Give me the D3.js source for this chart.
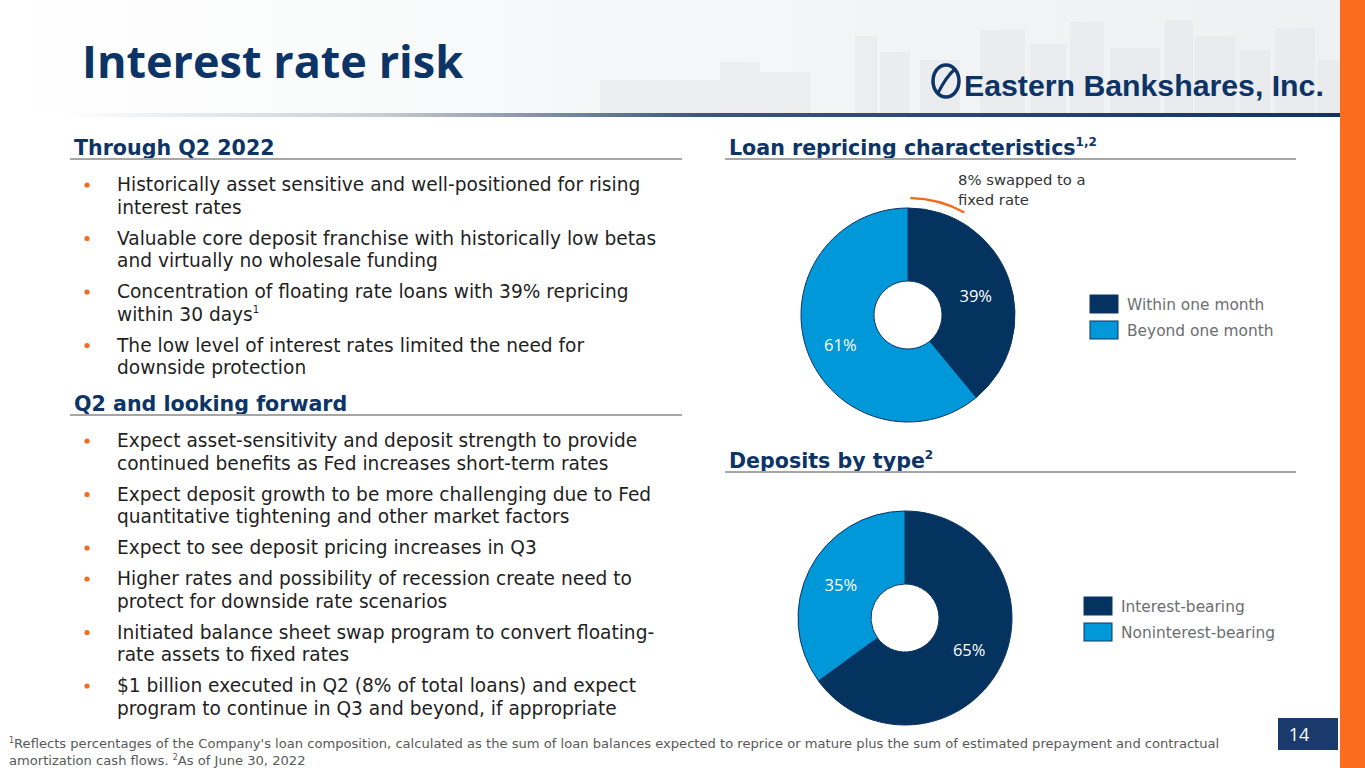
<!DOCTYPE html>
<html>
<head>
<meta charset="utf-8">
<script src="https://cdn.jsdelivr.net/npm/d3@7"></script>
<style>
  body { margin: 0; background: #fff; }
  svg { display: block; font-family: "DejaVu Sans", "Open Sans", sans-serif; }
  .hdr { font-weight: 700; fill: #0d3466; font-size: 20.6px; }
  .bul { fill: #1f1f1f; font-size: 18.6px; }
  .leg { fill: #6d6e71; font-size: 15.4px; }
  .pct { fill: #fff; font-size: 16.5px; font-family: "Open Sans", sans-serif; }
</style>
</head>
<body>
<svg id="slide"></svg>
<script>
const W = 1365, H = 768;

// chart data
const loanLabels = ["Within one month", "Beyond one month"];
const loanValues = [39, 61];
const swappedShare = 8;
const depositLabels = ["Interest-bearing", "Noninterest-bearing"];
const depositValues = [65, 35];

// slide text
const title = "Interest rate risk";
const leftTop = [
  ["Historically asset sensitive and well-positioned for rising", "interest rates"],
  ["Valuable core deposit franchise with historically low betas", "and virtually no wholesale funding"],
  ["Concentration of floating rate loans with 39% repricing", "within 30 days|1"],
  ["The low level of interest rates limited the need for", "downside protection"]
];
const leftBottom = [
  ["Expect asset-sensitivity and deposit strength to provide", "continued benefits as Fed increases short-term rates"],
  ["Expect deposit growth to be more challenging due to Fed", "quantitative tightening and other market factors"],
  ["Expect to see deposit pricing increases in Q3"],
  ["Higher rates and possibility of recession create need to", "protect for downside rate scenarios"],
  ["Initiated balance sheet swap program to convert floating-", "rate assets to fixed rates"],
  ["$1 billion executed in Q2 (8% of total loans) and expect", "program to continue in Q3 and beyond, if appropriate"]
];

const navy = "#0d3466", dark = "#04335f", light = "#0098d8", orange = "#f26b21";
const colors = d3.scaleOrdinal().range([dark, light]);

const svg = d3.select("#slide").attr("width", W).attr("height", H);
const defs = svg.append("defs");

// header band with a faint skyline
const hg = defs.append("linearGradient").attr("id", "band");
hg.append("stop").attr("offset", "0%").attr("stop-color", "#ffffff");
hg.append("stop").attr("offset", "45%").attr("stop-color", "#f6f7f8");
hg.append("stop").attr("offset", "100%").attr("stop-color", "#eef0f2");
svg.append("rect").attr("width", W - 25).attr("height", 114).attr("fill", "url(#band)");

const sky = svg.append("g").attr("fill", "#e6e8eb").attr("opacity", 0.6);
[[600, 80, 120, 34], [720, 62, 40, 52], [760, 72, 50, 42], [855, 36, 22, 78], [880, 52, 30, 62],
 [920, 60, 40, 54], [980, 30, 45, 84], [1030, 44, 36, 70], [1070, 22, 34, 92], [1110, 48, 50, 66],
 [1165, 20, 28, 94], [1195, 36, 40, 78], [1240, 50, 30, 64], [1275, 28, 40, 86], [1318, 60, 22, 54]]
  .forEach(([x, y, w, h]) => sky.append("rect").attr("x", x).attr("y", y).attr("width", w).attr("height", h));

const lg = defs.append("linearGradient").attr("id", "rule");
lg.append("stop").attr("offset", "0%").attr("stop-color", "#ffffff");
lg.append("stop").attr("offset", "25%").attr("stop-color", "#c9ccd1");
lg.append("stop").attr("offset", "50%").attr("stop-color", "#3a5680");
lg.append("stop").attr("offset", "100%").attr("stop-color", "#0d3466");
svg.append("rect").attr("x", 60).attr("y", 113).attr("width", 1280).attr("height", 4).attr("fill", "url(#rule)");

// orange side bar
svg.append("rect").attr("x", 1340).attr("width", 25).attr("height", H).attr("fill", "#fb6c1e");

svg.append("text").attr("x", 82).attr("y", 78)
  .attr("fill", navy).attr("font-size", 45).attr("font-weight", 700)
  .attr("font-family", "'Open Sans', sans-serif").text(title);

// logo
const logo = svg.append("g").attr("transform", "translate(930,67)");
logo.append("ellipse").attr("cx", 16).attr("cy", 14).attr("rx", 13).attr("ry", 16)
  .attr("fill", "none").attr("stroke", navy).attr("stroke-width", 3.5);
logo.append("path").attr("d", "M8,26 C14,14 18,8 25,2").attr("stroke", navy).attr("stroke-width", 3).attr("fill", "none");
const logoText = logo.append("text").attr("x", 34).attr("y", 29).attr("fill", navy)
  .attr("font-family", "'Liberation Sans Narrow', 'Liberation Sans', sans-serif").attr("font-weight", 700)
  .attr("font-size", 35).text("Eastern Bankshares, Inc.");
// shrink font so the wordmark fits its slot
const natural = logoText.node().getComputedTextLength();
if (natural > 360) logoText.attr("font-size", 35 * 360 / natural);

// section headers
function header(x, y, x2, txt, sup) {
  const t = svg.append("text").attr("class", "hdr").attr("x", x).attr("y", y).text(txt);
  if (sup) t.append("tspan").attr("font-size", 12).attr("dy", -9).text(sup);
  svg.append("rect").attr("x", x - 4).attr("y", y + 3).attr("width", x2 - x + 4).attr("height", 2).attr("fill", "#a6a6a6");
}
header(74, 155, 682, "Through Q2 2022");
header(74, 411, 682, "Q2 and looking forward");
header(729, 155, 1296, "Loan repricing characteristics", "1,2");
header(729, 468, 1296, "Deposits by type", "2");

// bullets
function bullets(items, y0) {
  let y = y0;
  items.forEach(lines => {
    svg.append("circle").attr("cx", 87).attr("cy", y - 6).attr("r", 2.6).attr("fill", orange);
    lines.forEach(l => {
      const [txt, sup] = l.split("|");
      const t = svg.append("text").attr("class", "bul").attr("x", 117).attr("y", y).text(txt);
      if (sup) t.append("tspan").attr("font-size", 10).attr("dy", -8).text(sup);
      y += 22.5;
    });
    y += 8.5;
  });
}
bullets(leftTop, 191);
bullets(leftBottom, 447);

// donuts
const pie = d3.pie().sort(null).value(d => d.v);
const R = 107, r0 = 34;
const arc = d3.arc().innerRadius(r0).outerRadius(R);
const labelArc = d3.arc().innerRadius(72).outerRadius(72);

function donut(cx, cy, labels, values, legX, legY, labelDy) {
  const data = labels.map((k, i) => ({ k, v: values[i] }));
  colors.domain(labels);
  const g = svg.append("g").attr("transform", `translate(${cx},${cy})`);
  const arcs = pie(data);
  g.selectAll("path.slice").data(arcs).join("path")
    .attr("class", "slice").attr("d", arc)
    .attr("fill", d => colors(d.data.k)).attr("stroke", navy).attr("stroke-width", 1);
  g.selectAll("text.pct").data(arcs).join("text")
    .attr("class", "pct")
    .attr("transform", d => `translate(${labelArc.centroid(d)})`)
    .attr("text-anchor", "middle").attr("y", labelDy).attr("dy", "0.35em")
    .text(d => d.data.v + "%");

  const lgd = svg.append("g").attr("transform", `translate(${legX},${legY})`);
  const item = lgd.selectAll("g").data(labels).join("g")
    .attr("transform", (d, i) => `translate(0,${i * 26})`);
  item.append("rect").attr("width", 28).attr("height", 18)
    .attr("fill", d => colors(d)).attr("stroke", navy).attr("stroke-width", 1);
  item.append("text").attr("class", "leg").attr("x", 37).attr("y", 14.5).text(d => d);
  return g;
}

const loanG = donut(908, 315, loanLabels, loanValues, 1090, 295, 6);
donut(905, 618, depositLabels, depositValues, 1084, 597, 0);

// swapped-to-fixed arc
const swapArc = d3.arc().innerRadius(117).outerRadius(117)
  .startAngle(0.02).endAngle(swappedShare / 100 * 2 * Math.PI);
loanG.append("path").attr("d", swapArc()).attr("fill", "none")
  .attr("stroke", orange).attr("stroke-width", 2.5);
svg.append("text").attr("x", 958).attr("y", 185).attr("font-size", 14.8).attr("fill", "#333")
  .text("8% swapped to a");
svg.append("text").attr("x", 958).attr("y", 205).attr("font-size", 14.8).attr("fill", "#333")
  .text("fixed rate");

// page number
svg.append("rect").attr("x", 1278).attr("y", 718).attr("width", 60).attr("height", 32).attr("fill", "#1a3a6b");
svg.append("text").attr("x", 1299).attr("y", 741).attr("text-anchor", "middle")
  .attr("fill", "#fff").attr("font-size", 18).attr("font-family", "'Open Sans', sans-serif").text("14");

// footnote
const f1 = svg.append("text").attr("x", 9).attr("y", 748).attr("font-size", 13.1).attr("fill", "#595959");
f1.append("tspan").attr("font-size", 8).attr("dy", -5).text("1");
f1.append("tspan").attr("dy", 5).text("Reflects percentages of the Company's loan composition, calculated as the sum of loan balances expected to reprice or mature plus the sum of estimated prepayment and contractual");
const f2 = svg.append("text").attr("x", 9).attr("y", 765).attr("font-size", 13.1).attr("fill", "#595959");
f2.append("tspan").text("amortization cash flows. ");
f2.append("tspan").attr("font-size", 8).attr("dy", -5).text("2");
f2.append("tspan").attr("dy", 5).text("As of June 30, 2022");
</script>
</body>
</html>
